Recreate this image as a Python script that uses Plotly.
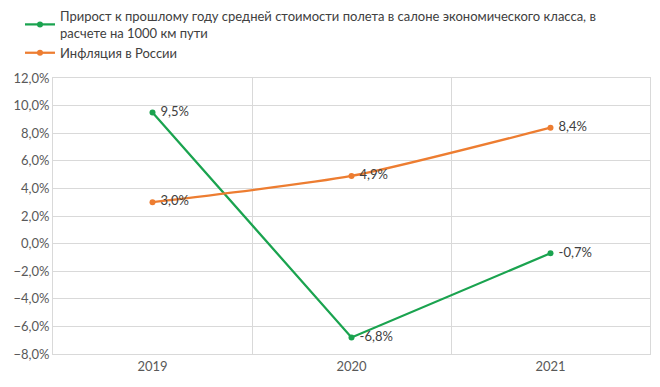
import plotly.graph_objects as go

years = ["2019", "2020", "2021"]
fare_growth = [0.095, -0.068, -0.007]
inflation = [0.030, 0.049, 0.084]
name_fare = "Прирост к прошлому году средней стоимости полета в салоне экономического класса, в<br>расчете на 1000 км пути"
name_infl = "Инфляция в России"

GREEN = "#1aa34f"
ORANGE = "#ed7d31"
TXT = "#595959"
FONT = "Lato"

fig = go.Figure()
fig.add_trace(go.Scatter(
    x=years, y=fare_growth, name=name_fare, mode="lines+markers+text",
    line=dict(color=GREEN, width=2.25), marker=dict(size=6, color=GREEN),
    texttemplate=" %{y:.1%}", textposition="middle right",
    textfont=dict(color="#404040", size=13, family=FONT),
))
fig.add_trace(go.Scatter(
    x=years, y=inflation, name=name_infl, mode="lines+markers+text",
    line=dict(color=ORANGE, width=2.25, shape="spline", smoothing=0.6), marker=dict(size=6, color=ORANGE),
    texttemplate=" %{y:.1%}", textposition="middle right",
    textfont=dict(color="#404040", size=13, family=FONT),
))

fig.update_layout(
    width=652, height=379,
    margin=dict(l=45, r=10, t=70, b=33, autoexpand=False),
    paper_bgcolor="white", plot_bgcolor="white",
    separators=", ",
    font=dict(family=FONT, size=13, color=TXT),
    showlegend=True,
    legend=dict(
        xref="paper", yref="paper", x=-0.0553, y=1.279,
        xanchor="left", yanchor="top",
        font=dict(family=FONT, size=13, color="#404040"),
        itemwidth=30, tracegroupgap=2,
        bgcolor="rgba(0,0,0,0)",
    ),
    xaxis=dict(
        type="category", tickson="boundaries", showgrid=True, gridcolor="#d9d9d9",
        showline=True, linecolor="#d9d9d9", mirror=True, ticks="",
        range=[-0.5, 2.5], tickfont=dict(size=13, color=TXT), automargin=False,
    ),
    yaxis=dict(
        range=[-0.08, 0.12], dtick=0.02, tickformat=".1%",
        showgrid=True, gridcolor="#d9d9d9", zeroline=False,
        showline=True, linecolor="#d9d9d9", mirror=True,
        ticks="", tickfont=dict(size=13, color=TXT), automargin=False,
    ),
)

fig.write_html("out.html")
